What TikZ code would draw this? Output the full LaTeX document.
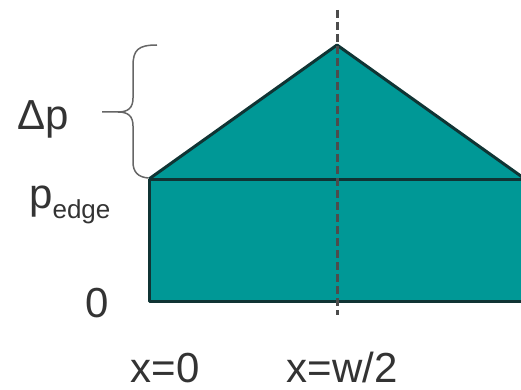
\documentclass[tikz,border=0pt]{standalone}
\usepackage{fontspec}
\setmainfont{Liberation Sans}
\definecolor{slab}{RGB}{0,152,150}
\definecolor{rim}{RGB}{16,52,52}
\tikzset{
  lbl/.style={anchor=base, inner sep=0pt, text=black!80, font=\fontsize{42}{48}\selectfont},
  outline/.style={draw=rim, line width=3pt, line join=round},
  midline/.style={draw=black!70, line width=3pt, dash pattern=on 8pt off 4pt}
}
\begin{document}
\begin{tikzpicture}[x=1pt, y=-1pt]
\useasboundingbox (0,0) rectangle (521,390);
\clip (0,0) rectangle (521,390);
% profile
\fill[slab] (149,179) -- (337,45) -- (525,179) -- (525,301) -- (149,301) -- cycle;
\draw[outline] (149,179) -- (337,45) -- (525,179);
\draw[outline] (149,179) -- (525,179);
\draw[outline] (149,179) -- (149,301) -- (525,301);
\draw[midline] (337,10) -- (337,315);
% brace
\draw[black!60, line width=1.5pt] (157,45) .. controls (138,45) and (133,50) .. (133,66)
  -- (133,98) .. controls (133,108) and (128,112) .. (118,112) -- (102,112);
\draw[black!60, line width=1.5pt] (118,112) .. controls (128,112) and (133,116) .. (133,126)
  -- (133,162) .. controls (133,172) and (138,177) .. (148,178);
% labels
\node[lbl, anchor=base west] (dp) at (17,130) {Δp};
\node[lbl, anchor=base west] (pedge) at (29,208) {p\raisebox{-10pt}{\fontsize{26}{30}\selectfont edge}};
\node[lbl] (zero) at (97,317) {0};
\node[lbl] (xleft) at (165,382) {x=0};
\node[lbl] (xmid) at (342,382) {x=w/2};
\end{tikzpicture}
\end{document}
